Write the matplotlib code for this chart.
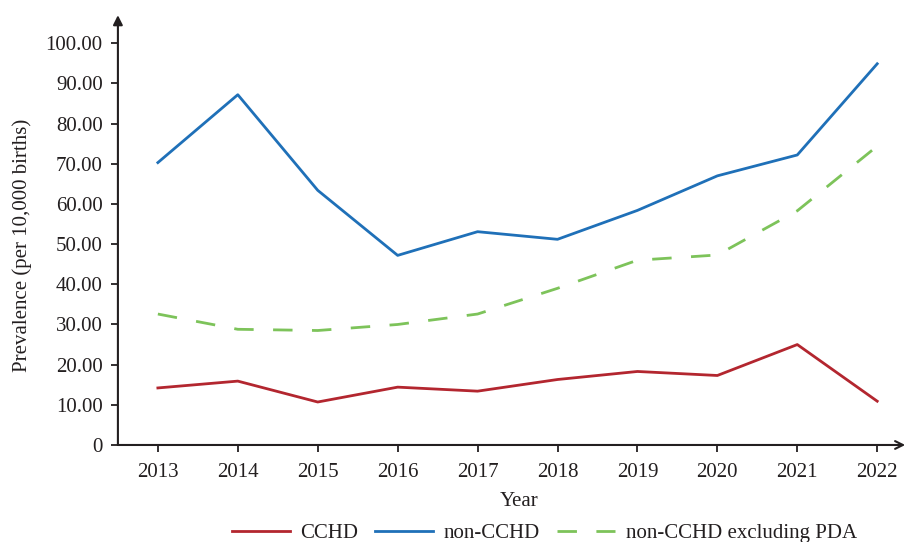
import matplotlib
matplotlib.use("Agg")
import matplotlib.pyplot as plt

plt.rcParams["font.family"] = ["Liberation Serif", "DejaVu Serif"]

years = [2013, 2014, 2015, 2016, 2017, 2018, 2019, 2020, 2021, 2022]
cchd = [14.2, 15.9, 10.7, 14.4, 13.4, 16.3, 18.3, 17.3, 25.0, 10.9]
non_cchd = [70.3, 87.2, 63.4, 47.2, 53.1, 51.2, 58.4, 67.0, 72.2, 94.9]
non_cchd_ex_pda = [32.6, 28.8, 28.5, 30.0, 32.6, 39.0, 46.0, 47.3, 58.3, 74.4]

y_ticks = [0, 10, 20, 30, 40, 50, 60, 70, 80, 90, 100]
y_tick_labels = ["0"] + [f"{v:.2f}" for v in y_ticks[1:]]

RED = "#B3262F"
BLUE = "#1F70B8"
GREEN = "#7DC35A"
AXIS = "#231F20"

fig = plt.figure(figsize=(9.07, 5.42), dpi=100)
ax = fig.add_axes([0.130, 0.179, 0.868, 0.793])

ax.plot(years, cchd, color=RED, lw=2.0, label="CCHD")
ax.plot(years, non_cchd, color=BLUE, lw=2.0, label="non-CCHD")
(ln,) = ax.plot(years, non_cchd_ex_pda, color=GREEN, lw=2.0, label="non-CCHD excluding PDA")
ln.set_dashes((7, 7))

ax.set_xlim(2012.5, 2022.35)
ax.set_ylim(0, 107)
ax.set_xticks(years)
ax.set_xticklabels([str(y) for y in years])
ax.set_yticks(y_ticks)
ax.set_yticklabels(y_tick_labels)

for side in ["top", "right", "left", "bottom"]:
    ax.spines[side].set_visible(False)

# axis lines with arrow heads
ax.annotate("", xy=(0, 1), xytext=(0, 0), xycoords="axes fraction",
            arrowprops=dict(arrowstyle="-|>", lw=1.5, color=AXIS,
                            mutation_scale=14, shrinkA=0, shrinkB=0))
ax.annotate("", xy=(1, 0), xytext=(0, 0), xycoords="axes fraction",
            arrowprops=dict(arrowstyle="->", lw=1.5, color=AXIS,
                            mutation_scale=14, shrinkA=0, shrinkB=0))

ax.tick_params(axis="both", direction="out", length=5, width=1.3,
               color=AXIS, labelsize=15, labelcolor=AXIS)
ax.tick_params(axis="y", pad=6)
ax.tick_params(axis="x", pad=8)

fig.text(0.024, 0.548, "Prevalence (per 10,000 births)",
         rotation=90, ha="center", va="center", fontsize=15, color=AXIS)
fig.text(0.572, 0.075, "Year", ha="center", va="center", fontsize=15, color=AXIS)

fig.legend(loc="center", bbox_to_anchor=(0.600, 0.016), ncol=3, frameon=False,
           fontsize=15, handlelength=2.8, columnspacing=0.8, handletextpad=0.5,
           labelcolor=AXIS)

fig.savefig("out.png", dpi=100)
